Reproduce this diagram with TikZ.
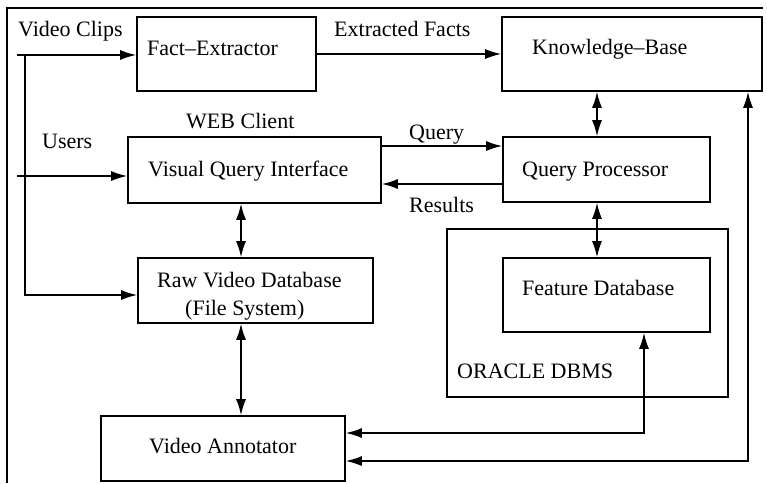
\documentclass[tikz,border=0pt]{standalone}
\usepackage{fontspec}
\setmainfont{Liberation Serif}
\usetikzlibrary{arrows.meta}
\newcommand{\dfont}{\fontsize{22}{27}\selectfont}
\tikzset{
  box/.style={draw, line width=1.6pt, rectangle, inner sep=0pt},
  txt/.style={font=\dfont, inner sep=0pt, anchor=base west},
  arr/.style={line width=1.6pt, -{Latex[length=16pt,width=10pt]}},
  biarr/.style={line width=1.6pt, {Latex[length=16pt,width=10pt]}-{Latex[length=16pt,width=10pt]}},
  frame/.style={line width=1.1pt}
}
\begin{document}
\begin{tikzpicture}[x=1pt,y=-1pt]
\useasboundingbox (0,0) rectangle (767,483);
% frame
\draw[frame] (7,483) -- (7,8) -- (763,8);
% boxes
\node[box, minimum width=179pt, minimum height=74pt] (fe) at (226.5,54) {};
\node[box, minimum width=260pt, minimum height=74pt] (kb) at (632,54) {};
\node[box, minimum width=253pt, minimum height=66pt] (vqi) at (254.5,170) {};
\node[box, minimum width=207pt, minimum height=65pt] (qp) at (606.5,169.5) {};
\node[box, minimum width=235pt, minimum height=65pt] (raw) at (255.5,290.5) {};
\node[box, minimum width=281pt, minimum height=168pt] (ora) at (587.5,313) {};
\node[box, minimum width=207pt, minimum height=74pt] (fdb) at (606.5,295) {};
\node[box, minimum width=244pt, minimum height=65pt] (va) at (223,448.5) {};
% texts
\node[txt] (tvc) at (18,36) {Video Clips};
\node[txt] (tfe) at (147,55) {Fact–Extractor};
\node[txt] (tef) at (334,36) {Extracted Facts};
\node[txt] (tkb) at (532,54) {Knowledge–Base};
\node[txt] (tweb) at (186,128) {WEB Client};
\node[txt] (tus) at (42,148) {Users};
\node[txt] (tvqi) at (148,176) {Visual Query Interface};
\node[txt] (tq) at (409,139) {Query};
\node[txt] (tqp) at (522,176) {Query Processor};
\node[txt] (tres) at (409,212) {Results};
\node[txt] (traw1) at (157,287) {Raw Video Database};
\node[txt] (traw2) at (185,315) {(File System)};
\node[txt] (tfdb) at (522,295) {Feature Database};
\node[txt] (tora) at (457,378) {ORACLE DBMS};
\node[txt] (tva) at (149,453) {Video Annotator};
% connectors
\coordinate (vc) at (17,55);
\coordinate (br) at (25,55);
\draw[arr] (vc) -- (vc -| fe.west);
\draw[arr] (br) |- ([yshift=-4.5pt]raw.west);
\coordinate (us) at (17,176);
\draw[arr] (us) -- (us -| vqi.west);
\draw[arr] (fe.east) -- (kb.west);
\coordinate (k0) at ([xshift=-35pt]kb.south);
\draw[biarr] (k0) -- (k0 |- qp.north);
\coordinate (q1) at ([yshift=24pt]vqi.east);
\draw[arr] (q1) -- (q1 -| qp.west);
\coordinate (r1) at ([yshift=-14.5pt]qp.west);
\draw[arr] (r1) -- (r1 -| vqi.east);
\coordinate (v1) at ([xshift=-13.5pt]vqi.south);
\draw[biarr] (v1) -- (v1 |- raw.north);
\coordinate (v2) at ([xshift=-14.5pt]raw.south);
\draw[biarr] (v2) -- (v2 |- va.north);
\coordinate (p1) at ([xshift=-9.5pt]qp.south);
\draw[biarr] (p1) -- (p1 |- fdb.north);
\coordinate (a1) at ([yshift=15.5pt]va.east);
\coordinate (f1) at ([xshift=37.5pt]fdb.south);
\draw[biarr] (a1) -| (f1);
\coordinate (a2) at ([yshift=-12.5pt]va.east);
\coordinate (k1) at ([xshift=116pt]kb.south);
\draw[biarr] (a2) -| (k1);
\end{tikzpicture}
\end{document}
